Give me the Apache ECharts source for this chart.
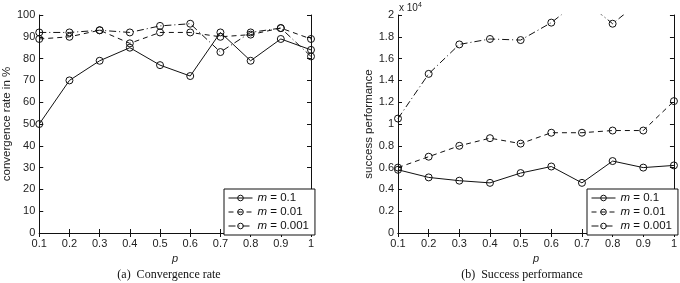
<!DOCTYPE html>
<html>
<head>
<meta charset="utf-8">
<script src="https://cdn.jsdelivr.net/npm/echarts@6/dist/echarts.min.js"></script>
<style>
  html, body { margin: 0; padding: 0; background: #fff; }
  #chart { width: 680px; height: 283px; }
</style>
</head>
<body>
<div id="chart"></div>
<script>
// p values (x axis)
const pLabels = ['0.1', '0.2', '0.3', '0.4', '0.5', '0.6', '0.7', '0.8', '0.9', '1'];
const seriesNames = ['m = 0.1', 'm = 0.01', 'm = 0.001'];

// (a) convergence rate in %
const convM01 = [50, 70, 79, 85, 77, 72, 92, 79, 89, 84];
const convM001 = [89, 90, 93, 87, 92, 92, 90, 91, 94, 89];
const convM0001 = [92, 92, 93, 92, 95, 96, 83, 92, 94, 81];

// (b) success performance
const succM01 = [5800, 5100, 4800, 4600, 5500, 6100, 4600, 6600, 6000, 6200];
const succM001 = [6000, 7000, 8000, 8700, 8200, 9200, 9200, 9400, 9400, 12100];
const succM0001 = [10500, 14600, 17300, 17800, 17700, 19300, 21500, 19200, 21500, 23000];

const lineTypes = ['solid', [5, 4], [7, 3, 1, 3]];
const ink = '#111';
const font = 'Liberation Sans';

const mkSeries = (name, data, idx, type) => ({
  name: name,
  type: 'line',
  xAxisIndex: idx,
  yAxisIndex: idx,
  data: data,
  symbol: 'circle',
  symbolSize: 7,
  clip: true,
  lineStyle: { color: ink, width: 1, type: type },
  itemStyle: { color: 'rgba(0,0,0,0)', borderColor: ink, borderWidth: 1 },
  emphasis: { disabled: true },
  animation: false
});

const xBase = (grid, top) => ({
  type: 'category',
  gridIndex: grid,
  data: pLabels,
  boundaryGap: false,
  position: top ? 'top' : 'bottom',
  axisLine: { show: true, lineStyle: { color: ink, width: 1 } },
  axisTick: { show: true, inside: true, length: 4, lineStyle: { color: ink } },
  axisLabel: top ? { show: false } : { color: '#222', fontFamily: font, fontSize: 11, margin: 5 },
  splitLine: { show: false },
  name: top ? '' : 'p',
  nameLocation: 'middle',
  nameGap: 20,
  nameTextStyle: { fontFamily: font, fontStyle: 'italic', fontSize: 11, color: '#222' }
});

const yBase = (grid, right, max, interval, name, gap, fmt) => ({
  type: 'value',
  gridIndex: grid,
  min: 0,
  max: max,
  interval: interval,
  position: right ? 'right' : 'left',
  axisLine: { show: true, lineStyle: { color: ink, width: 1 } },
  axisTick: { show: true, inside: true, length: 4, lineStyle: { color: ink } },
  axisLabel: right ? { show: false } : { color: '#222', fontFamily: font, fontSize: 11, margin: 4, formatter: fmt },
  splitLine: { show: false },
  name: right ? '' : name,
  nameLocation: 'middle',
  nameGap: gap,
  nameTextStyle: { fontFamily: font, fontSize: 11.5, color: '#222' }
});

const legendBase = (left, top) => ({
  left: left,
  top: top,
  width: 86,
  orient: 'vertical',
  data: seriesNames,
  backgroundColor: '#fff',
  borderColor: ink,
  borderWidth: 1,
  borderRadius: 0,
  padding: [3, 6, 3, 4],
  itemGap: 2,
  itemWidth: 24,
  itemHeight: 7,
  selectedMode: false,
  itemStyle: { color: 'rgba(0,0,0,0)', borderColor: ink, borderWidth: 1 },
  lineStyle: { width: 1, color: ink },
  formatter: n => '{i|m}' + n.slice(1),
  textStyle: {
    fontFamily: font, fontSize: 11.5, color: '#111',
    rich: { i: { fontFamily: font, fontSize: 11.5, fontStyle: 'italic', color: '#111' } }
  }
});

const chart = echarts.init(document.getElementById('chart'), null, { renderer: 'canvas' });
chart.setOption({
  backgroundColor: '#fff',
  animation: false,
  grid: [
    { left: 35, top: 15, width: 276, height: 218 },
    { left: 398, top: 15, width: 277, height: 218 }
  ],
  xAxis: [xBase(0, false), xBase(1, false), xBase(0, true), xBase(1, true)],
  yAxis: [
    yBase(0, false, 100, 10, 'convergence rate in %', 20),
    yBase(1, false, 20000, 2000, 'success performance', 19, v => String(v / 10000)),
    yBase(0, true, 100, 10),
    yBase(1, true, 20000, 2000)
  ],
  legend: [legendBase(224, 189), legendBase(587, 189)],
  series: [
    mkSeries(seriesNames[0], convM01, 0, lineTypes[0]),
    mkSeries(seriesNames[1], convM001, 0, lineTypes[1]),
    mkSeries(seriesNames[2], convM0001, 0, lineTypes[2]),
    mkSeries(seriesNames[0], succM01, 1, lineTypes[0]),
    mkSeries(seriesNames[1], succM001, 1, lineTypes[1]),
    mkSeries(seriesNames[2], succM0001, 1, lineTypes[2])
  ],
  graphic: [
    {
      type: 'text', left: 399, top: 2,
      style: {
        text: 'x 10{s|4}', fill: '#222', font: '10px "Liberation Sans"',
        rich: { s: { fontSize: 7, verticalAlign: 'top', padding: [0, 0, 6, 0] } }
      }
    },
    {
      type: 'text', x: 169, y: 269,
      style: { text: '(a)  Convergence rate', fill: '#111', font: '12px "Liberation Serif"', align: 'center' }
    },
    {
      type: 'text', x: 522, y: 269,
      style: { text: '(b)  Success performance', fill: '#111', font: '12px "Liberation Serif"', align: 'center' }
    }
  ]
});
</script>
</body>
</html>
